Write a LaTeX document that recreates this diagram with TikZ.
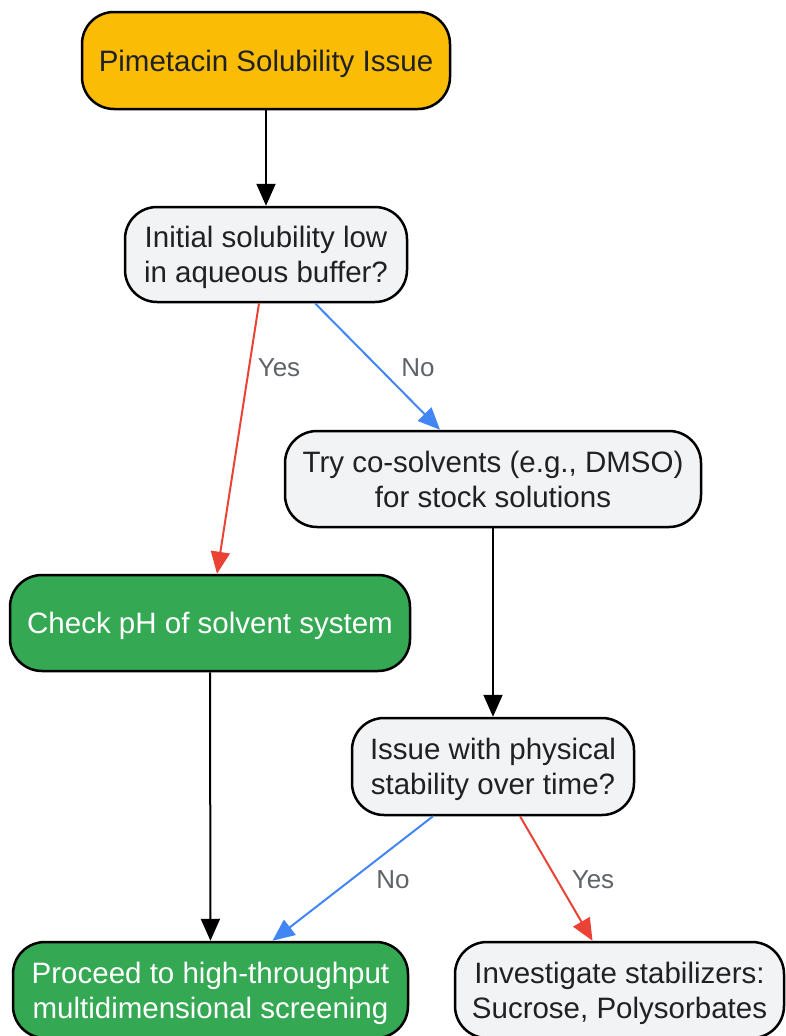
\documentclass[tikz,border=0pt]{standalone}
\usepackage{fontspec}
\setmainfont{Liberation Sans}
\usetikzlibrary{arrows.meta}
\definecolor{cyellow}{HTML}{FBBC05}
\definecolor{cgreen}{HTML}{34A853}
\definecolor{cgrey}{HTML}{F1F3F4}
\definecolor{ctext}{HTML}{202124}
\definecolor{clabel}{HTML}{5F6368}
\definecolor{cred}{HTML}{EA4335}
\definecolor{cblue}{HTML}{4285F4}
\tikzset{
  box/.style={draw=black, line width=2.5pt, rounded corners=32pt, align=center,
    inner sep=0pt, text=ctext, text depth=0pt, font=\fontsize{29.5}{35}\selectfont},
  ybox/.style={box, fill=cyellow},
  gbox/.style={box, fill=cgreen, text=white},
  qbox/.style={box, fill=cgrey},
  conn/.style={line width=2pt, -{Triangle[length=22pt,width=19pt]}},
  lbl/.style={text=clabel, font=\fontsize{26}{30}\selectfont, inner sep=0pt},
}
\begin{document}
\begin{tikzpicture}[x=1pt,y=-1pt]
\useasboundingbox (0,0) rectangle (785,1036);
\node[ybox, minimum width=368pt, minimum height=97pt] (top) at (266,60.5) {Pimetacin Solubility Issue};
\node[qbox, minimum width=282pt, minimum height=95pt] (q1) at (266,254.5) {Initial solubility low\\in aqueous buffer?};
\node[qbox, minimum width=416pt, minimum height=96pt] (co) at (493,479) {Try co-solvents (e.g., DMSO)\\for stock solutions};
\node[gbox, minimum width=400pt, minimum height=96pt] (ph) at (210,623) {Check pH of solvent system};
\node[qbox, minimum width=282pt, minimum height=97pt] (q2) at (493,766.5) {Issue with physical\\stability over time?};
\node[gbox, minimum width=395pt, minimum height=96pt] (pr) at (210.5,990) {Proceed to high-throughput\\multidimensional screening};
\node[qbox, minimum width=329pt, minimum height=96pt] (inv) at (619.5,990) {Investigate stabilizers:\\Sucrose, Polysorbates};

\draw[conn] (top) -- (q1);
\draw[conn, draw=cred, fill=cred] ([xshift=-7pt]q1.south) -- ([xshift=7pt]ph.north);
\draw[conn, draw=cblue, fill=cblue] ([xshift=49pt]q1.south) -- ([xshift=-53pt]co.north);
\draw[conn] (co) -- (q2);
\draw[conn] (ph) -- (pr);
\draw[conn, draw=cblue, fill=cblue] ([xshift=-60pt]q2.south) -- ([xshift=62pt]pr.north);
\draw[conn, draw=cred, fill=cred] ([xshift=27pt]q2.south) -- ([xshift=-27pt]inv.north);

\node[lbl] (l1) at (279,368) {Yes};
\node[lbl] (l2) at (418,368) {No};
\node[lbl] (l3) at (393,880) {No};
\node[lbl] (l4) at (593,880) {Yes};
\end{tikzpicture}
\end{document}
